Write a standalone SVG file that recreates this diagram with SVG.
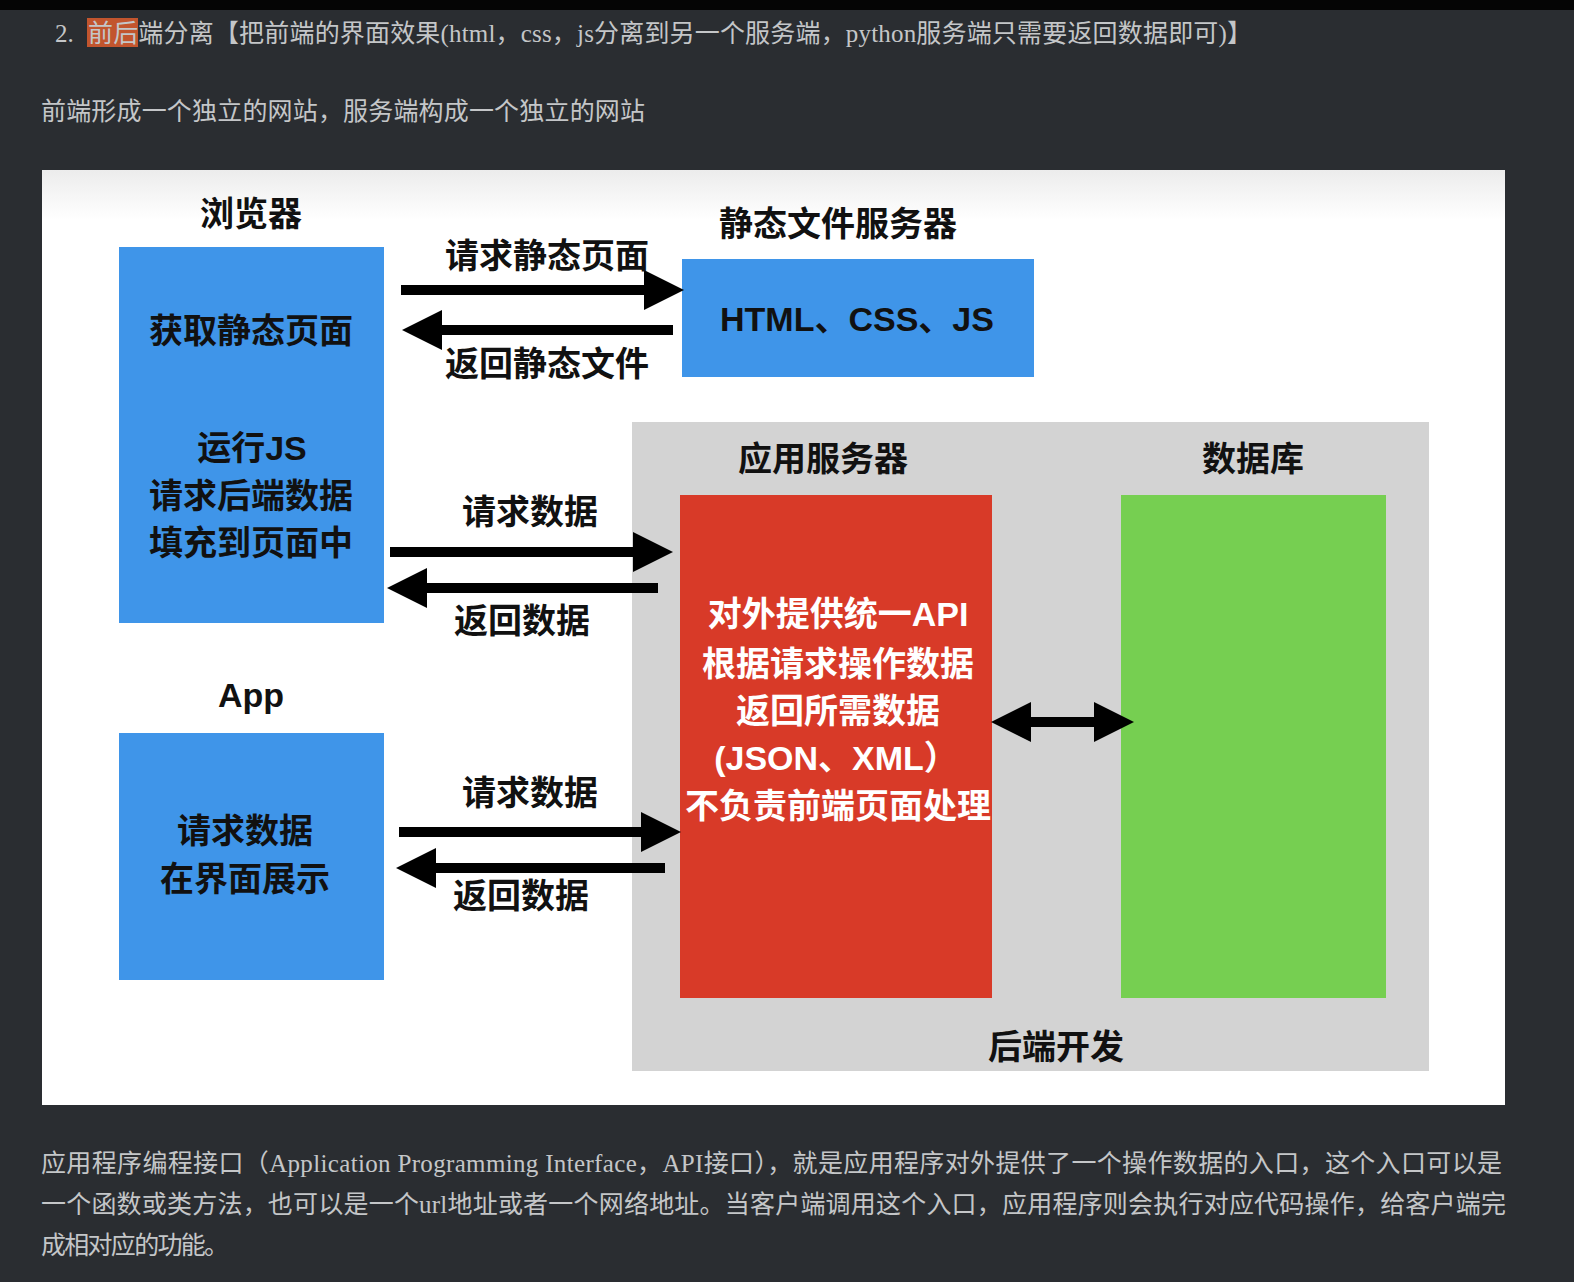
<svg xmlns="http://www.w3.org/2000/svg" width="1574" height="1282" viewBox="0 0 1574 1282">
<defs>
<style>
.pg{font-family:"Liberation Serif","Noto Sans CJK SC",serif;font-size:25px;fill:#c4c6c8}
.lb{font-family:"Liberation Sans","Noto Sans CJK SC",sans-serif;font-size:34px;font-weight:bold;fill:#111;text-anchor:middle}
.wt{fill:#fff}
.ar{stroke:#000;stroke-width:10;fill:none}
</style>
<marker id="ah" viewBox="0 0 40 40" markerWidth="40" markerHeight="40" markerUnits="userSpaceOnUse" refX="0" refY="20" orient="auto-start-reverse">
<path d="M0,0 L40,20 L0,40 z" fill="#000"/>
</marker>
<linearGradient id="pg" x1="0" y1="0" x2="0" y2="1">
<stop offset="0" stop-color="#ececec"/>
<stop offset="1" stop-color="#ffffff"/>
</linearGradient>
</defs>
<rect width="1574" height="1282" fill="#2a2d31"/>
<rect width="1574" height="10" fill="#050505"/>
<g id="header">
<rect x="87" y="18" width="51" height="29" fill="#c2552e"/>
<text class="pg" x="55" y="42">2.</text>
<text class="pg" x="88" y="42" textLength="1164" lengthAdjust="spacing">前后端分离【把前端的界面效果(html，css，js分离到另一个服务端，python服务端只需要返回数据即可)】</text>
<text class="pg" x="41" y="120" textLength="604" lengthAdjust="spacing">前端形成一个独立的网站，服务端构成一个独立的网站</text>
</g>
<rect id="panel" x="42" y="170" width="1463" height="935" fill="#fff"/>
<rect x="42" y="170" width="1463" height="50" fill="url(#pg)"/>
<g id="backend">
<rect x="632" y="422" width="797" height="649" fill="#d3d3d3"/>
<text class="lb" x="823" y="471">应用服务器</text>
<text class="lb" x="1253" y="471">数据库</text>
<text class="lb" x="1056" y="1059">后端开发</text>
</g>
<g id="browser">
<text class="lb" x="251" y="226">浏览器</text>
<rect x="119" y="247" width="265" height="376" fill="#3f95e9"/>
<text class="lb" x="251" y="343">获取静态页面</text>
<text class="lb" x="252" y="460">运行JS</text>
<text class="lb" x="251" y="508">请求后端数据</text>
<text class="lb" x="251" y="555">填充到页面中</text>
</g>
<g id="static-server">
<text class="lb" x="838" y="236">静态文件服务器</text>
<rect x="682" y="259" width="352" height="118" fill="#3f95e9"/>
<text class="lb" x="857" y="331">HTML、CSS、JS</text>
</g>
<g id="app">
<text class="lb" x="251" y="707">App</text>
<rect x="119" y="733" width="265" height="247" fill="#3f95e9"/>
<text class="lb" x="245" y="843">请求数据</text>
<text class="lb" x="245" y="891">在界面展示</text>
</g>
<g id="app-server">
<rect x="680" y="495" width="312" height="503" fill="#d83a28"/>
<text class="lb wt" x="838" y="626">对外提供统一API</text>
<text class="lb wt" x="838" y="676">根据请求操作数据</text>
<text class="lb wt" x="838" y="723">返回所需数据</text>
<text class="lb wt" x="836" y="770">(JSON、XML）</text>
<text class="lb wt" x="838" y="818">不负责前端页面处理</text>
</g>
<g id="database">
<rect x="1121" y="495" width="265" height="503" fill="#76cf51"/>
</g>
<g id="connectors">
<line class="ar" x1="401" y1="290" x2="644" y2="290" marker-end="url(#ah)"/>
<line class="ar" x1="673" y1="330" x2="442" y2="330" marker-end="url(#ah)"/>
<line class="ar" x1="390" y1="552" x2="633" y2="552" marker-end="url(#ah)"/>
<line class="ar" x1="658" y1="588" x2="427" y2="588" marker-end="url(#ah)"/>
<line class="ar" x1="399" y1="832" x2="641" y2="832" marker-end="url(#ah)"/>
<line class="ar" x1="665" y1="868" x2="436" y2="868" marker-end="url(#ah)"/>
<line class="ar" x1="1031" y1="722" x2="1094" y2="722" marker-start="url(#ah)" marker-end="url(#ah)"/>
<text class="lb" x="547" y="268">请求静态页面</text>
<text class="lb" x="547" y="376">返回静态文件</text>
<text class="lb" x="530" y="524">请求数据</text>
<text class="lb" x="522" y="633">返回数据</text>
<text class="lb" x="530" y="805">请求数据</text>
<text class="lb" x="521" y="908">返回数据</text>
</g>
<g id="footer">
<text class="pg" x="41" y="1172" textLength="1461" lengthAdjust="spacing">应用程序编程接口（Application Programming Interface，API接口），就是应用程序对外提供了一个操作数据的入口，这个入口可以是</text>
<text class="pg" x="41" y="1213" textLength="1465" lengthAdjust="spacing">一个函数或类方法，也可以是一个url地址或者一个网络地址。当客户端调用这个入口，应用程序则会执行对应代码操作，给客户端完</text>
<text class="pg" x="41" y="1254" textLength="188" lengthAdjust="spacing">成相对应的功能。</text>
</g>
</svg>
